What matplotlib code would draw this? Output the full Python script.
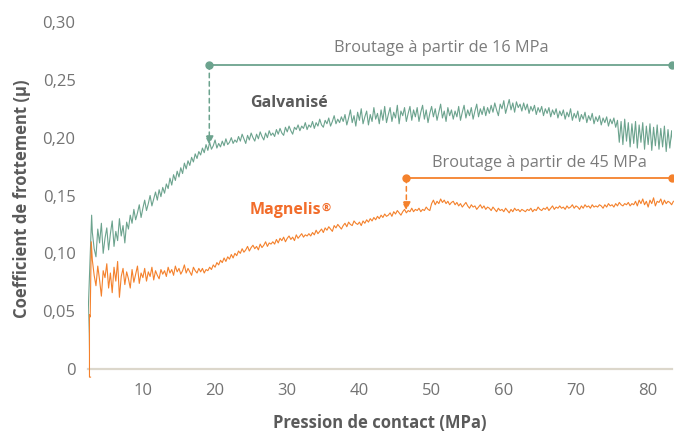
import numpy as np
import matplotlib
matplotlib.use("Agg")
import matplotlib.pyplot as plt

plt.rcParams['font.family'] = ['Open Sans', 'DejaVu Sans']

# ---------------- data ----------------
x_main = np.arange(3.0, 83.51, 0.25)

galv_start_x = [2.3, 2.35, 2.45, 2.9]
galv_start_y = [0.004, 0.030, 0.054, 0.133]
galv_y = [
    0.118, 0.104, 0.097, 0.121, 0.109, 0.126, 0.100, 0.113, 0.122, 0.103, 0.117, 0.128, 0.106, 0.119, 0.111, 0.130, 0.115, 0.124, 0.109, 0.127,
    0.121, 0.133, 0.126, 0.138, 0.129, 0.135, 0.142, 0.131, 0.139, 0.146, 0.137, 0.143, 0.150, 0.141, 0.147, 0.153, 0.146, 0.155, 0.149, 0.157,
    0.152, 0.160, 0.156, 0.165, 0.159, 0.168, 0.163, 0.171, 0.166, 0.174, 0.169, 0.178, 0.173, 0.180, 0.176, 0.183, 0.179, 0.186, 0.182, 0.188,
    0.185, 0.191, 0.187, 0.194, 0.189, 0.196, 0.190, 0.193, 0.198, 0.191, 0.195, 0.192, 0.197, 0.193, 0.199, 0.194, 0.196, 0.200, 0.195, 0.198,
    0.196, 0.201, 0.197, 0.203, 0.199, 0.195, 0.202, 0.198, 0.204, 0.200, 0.197, 0.203, 0.199, 0.205, 0.201, 0.198, 0.204, 0.200, 0.206, 0.202,
    0.204, 0.201, 0.207, 0.203, 0.208, 0.204, 0.202, 0.209, 0.205, 0.210, 0.206, 0.203, 0.209, 0.207, 0.211, 0.206, 0.210, 0.208, 0.213, 0.207,
    0.211, 0.209, 0.214, 0.208, 0.213, 0.210, 0.216, 0.211, 0.209, 0.215, 0.212, 0.217, 0.210, 0.214, 0.219, 0.212, 0.216, 0.213, 0.218, 0.214,
    0.220, 0.211, 0.217, 0.224, 0.213, 0.219, 0.210, 0.222, 0.215, 0.225, 0.212, 0.218, 0.223, 0.211, 0.220, 0.214, 0.226, 0.216, 0.221, 0.212,
    0.224, 0.215, 0.227, 0.213, 0.220, 0.226, 0.214, 0.222, 0.217, 0.228, 0.212, 0.223, 0.219, 0.226, 0.214, 0.221, 0.227, 0.215, 0.224, 0.218,
    0.226, 0.214, 0.222, 0.228, 0.216, 0.224, 0.213, 0.221, 0.227, 0.218, 0.225, 0.215, 0.222, 0.229, 0.217, 0.223, 0.214, 0.226, 0.219, 0.224,
    0.216, 0.223, 0.218, 0.227, 0.215, 0.222, 0.228, 0.217, 0.224, 0.219, 0.226, 0.216, 0.223, 0.229, 0.218, 0.225, 0.220, 0.227, 0.219, 0.226,
    0.221, 0.228, 0.222, 0.230, 0.224, 0.219, 0.229, 0.225, 0.232, 0.221, 0.227, 0.233, 0.224, 0.230, 0.222, 0.231, 0.226, 0.229, 0.223, 0.230,
    0.224, 0.229, 0.221, 0.227, 0.223, 0.228, 0.220, 0.226, 0.222, 0.227, 0.219, 0.225, 0.221, 0.226, 0.218, 0.224, 0.220, 0.225, 0.217, 0.223,
    0.219, 0.224, 0.216, 0.222, 0.218, 0.225, 0.215, 0.221, 0.217, 0.223, 0.214, 0.220, 0.216, 0.222, 0.213, 0.219, 0.215, 0.221, 0.212, 0.218,
    0.214, 0.219, 0.211, 0.217, 0.213, 0.218, 0.210, 0.216, 0.212, 0.217, 0.209, 0.215, 0.196, 0.214, 0.194, 0.216, 0.197, 0.213, 0.192, 0.212,
    0.195, 0.214, 0.191, 0.211, 0.196, 0.213, 0.190, 0.210, 0.194, 0.212, 0.189, 0.209, 0.193, 0.211, 0.190, 0.208, 0.192, 0.210, 0.188, 0.207,
    0.191, 0.206, 0.189,
]

magn_start_x = [2.75, 2.6, 2.6, 2.7, 2.85]
magn_start_y = [-0.007, -0.007, 0.047, 0.045, 0.110]
magn_y = [
    0.094, 0.081, 0.072, 0.089, 0.077, 0.063, 0.085, 0.079, 0.091, 0.070, 0.083, 0.066, 0.088, 0.076, 0.093, 0.062, 0.080, 0.087, 0.073, 0.084,
    0.078, 0.070, 0.086, 0.075, 0.082, 0.089, 0.074, 0.083, 0.079, 0.087, 0.076, 0.084, 0.080, 0.088, 0.077, 0.085, 0.081, 0.078, 0.086, 0.082,
    0.085, 0.080, 0.088, 0.083, 0.086, 0.081, 0.089, 0.084, 0.087, 0.082, 0.085, 0.090, 0.083, 0.087, 0.084, 0.081, 0.088, 0.085, 0.083, 0.087,
    0.084, 0.087, 0.083, 0.086, 0.085, 0.088, 0.086, 0.090, 0.088, 0.092, 0.090, 0.094, 0.092, 0.096, 0.093, 0.097, 0.095, 0.099, 0.096, 0.100,
    0.098, 0.102, 0.100, 0.104, 0.101, 0.103, 0.106, 0.102, 0.105, 0.107, 0.104, 0.106, 0.103, 0.108, 0.105, 0.107, 0.110, 0.106, 0.109, 0.108,
    0.110, 0.108, 0.112, 0.109, 0.113, 0.111, 0.114, 0.110, 0.113, 0.115, 0.112, 0.114, 0.111, 0.116, 0.113, 0.115, 0.117, 0.114, 0.116, 0.115,
    0.117, 0.115, 0.118, 0.116, 0.120, 0.117, 0.119, 0.121, 0.118, 0.122, 0.120, 0.123, 0.121, 0.119, 0.124, 0.122, 0.125, 0.123, 0.121, 0.124,
    0.126, 0.123, 0.127, 0.125, 0.124, 0.128, 0.126, 0.125, 0.127, 0.124, 0.128, 0.126, 0.129, 0.127, 0.130, 0.128, 0.131, 0.129, 0.132, 0.130,
    0.133, 0.131, 0.134, 0.132, 0.133, 0.135, 0.132, 0.136, 0.134, 0.137, 0.135, 0.133, 0.136, 0.138, 0.135, 0.137, 0.136, 0.139, 0.136, 0.138,
    0.137, 0.139, 0.136, 0.138, 0.137, 0.140, 0.138, 0.137, 0.143, 0.146, 0.142, 0.145, 0.143, 0.147, 0.144, 0.146, 0.143, 0.145, 0.142, 0.144,
    0.145, 0.142, 0.144, 0.141, 0.143, 0.140, 0.142, 0.144, 0.141, 0.139, 0.142, 0.140, 0.141, 0.138, 0.140, 0.142, 0.139, 0.141, 0.138, 0.140,
    0.139, 0.137, 0.140, 0.138, 0.136, 0.139, 0.137, 0.138, 0.136, 0.139, 0.137, 0.135, 0.138, 0.136, 0.139, 0.137, 0.138, 0.136, 0.138, 0.137,
    0.136, 0.138, 0.137, 0.139, 0.136, 0.138, 0.137, 0.140, 0.138, 0.137, 0.139, 0.138, 0.140, 0.137, 0.139, 0.141, 0.138, 0.140, 0.139, 0.141,
    0.139, 0.140, 0.138, 0.141, 0.139, 0.140, 0.142, 0.139, 0.141, 0.140, 0.138, 0.141, 0.139, 0.142, 0.140, 0.141, 0.139, 0.142, 0.140, 0.141,
    0.140, 0.142, 0.141, 0.139, 0.142, 0.140, 0.143, 0.141, 0.142, 0.140, 0.143, 0.141, 0.144, 0.142, 0.141, 0.143, 0.142, 0.144, 0.141, 0.143,
    0.142, 0.145, 0.141, 0.146, 0.143, 0.147, 0.142, 0.145, 0.140, 0.146, 0.143, 0.148, 0.141, 0.145, 0.144, 0.147, 0.142, 0.146, 0.143, 0.145,
    0.144, 0.142, 0.145,
]

x_ticks = [10, 20, 30, 40, 50, 60, 70, 80]
y_ticks = [0, 0.05, 0.10, 0.15, 0.20, 0.25, 0.30]
y_ticklabels = ["0", "0,05", "0,10", "0,15", "0,20", "0,25", "0,30"]

galv_onset = 19.2      # annotation start (position on chart)
galv_bar_y = 0.263
galv_arrow_to = 0.194
magn_onset = 46.5
magn_bar_y = 0.165
magn_arrow_to = 0.137

GREEN = "#6ca38e"
ORANGE = "#f4812c"
GREY = "#7b7b7b"
DARK = "#5a5a5a"

# ---------------- figure ----------------
fig = plt.figure(figsize=(6.74, 4.32), dpi=100)
ax = fig.add_axes([0.1306, 0.119, 0.997 - 0.1306, 0.9625 - 0.119])
XMIN, XMAX = 2.4, 83.3
ax.set_xlim(XMIN, XMAX)
ax.set_ylim(-0.01, 0.305)

gx = np.concatenate([galv_start_x, x_main])
gy = np.concatenate([galv_start_y, galv_y])
mx = np.concatenate([magn_start_x, x_main])
my = np.concatenate([magn_start_y, magn_y])

ax.plot(gx, gy, color=GREEN, lw=0.8, clip_on=True, zorder=3)
ax.plot(mx, my, color=ORANGE, lw=0.8, clip_on=False, zorder=3)

# spines
for s in ["left", "right", "top"]:
    ax.spines[s].set_visible(False)
ax.spines["bottom"].set_position(("data", 0))
ax.spines["bottom"].set_color("#dcd7cb")
ax.spines["bottom"].set_linewidth(1.6)
ax.spines["bottom"].set_zorder(1)

ax.set_xticks(x_ticks)
ax.set_yticks(y_ticks)
ax.set_yticklabels(y_ticklabels)
ax.tick_params(axis="both", length=0, labelsize=12, labelcolor="#737373")
ax.tick_params(axis="y", pad=9)
ax.tick_params(axis="x", pad=10)

ax.set_ylabel("Coefficient de frottement (µ)", fontsize=12, fontweight="bold",
              color=DARK, labelpad=8)
ax.set_xlabel("Pression de contact (MPa)", fontsize=12, fontweight="bold",
              color=DARK, labelpad=11)

# annotations: Galvanisé
ax.plot([galv_onset, XMAX], [galv_bar_y, galv_bar_y], color=GREEN, lw=1.3,
        clip_on=False, zorder=4)
ax.plot([galv_onset, XMAX], [galv_bar_y, galv_bar_y], 'o', color=GREEN, ms=5,
        clip_on=False, zorder=5)
ax.annotate("", xy=(galv_onset, galv_arrow_to), xytext=(galv_onset, galv_bar_y),
            arrowprops=dict(arrowstyle="-|>,head_length=0.5,head_width=0.25",
                            color=GREEN, lw=1.1, linestyle=(0, (3, 2.5)),
                            shrinkA=0, shrinkB=0), zorder=4)
ax.text(51.3, 0.2775, "Broutage à partir de 16 MPa", fontsize=11.8, color=GREY,
        ha="center", va="center")
ax.text(24.85, 0.230, "Galvanisé", fontsize=11.5, color=DARK, fontweight="bold",
        ha="left", va="center")

# annotations: Magnelis
ax.plot([magn_onset, XMAX], [magn_bar_y, magn_bar_y], color=ORANGE, lw=1.3,
        clip_on=False, zorder=4)
ax.plot([magn_onset, XMAX], [magn_bar_y, magn_bar_y], 'o', color=ORANGE, ms=5,
        clip_on=False, zorder=5)
ax.annotate("", xy=(magn_onset, magn_arrow_to), xytext=(magn_onset, magn_bar_y),
            arrowprops=dict(arrowstyle="-|>,head_length=0.5,head_width=0.25",
                            color=ORANGE, lw=1.1, linestyle=(0, (3, 2.5)),
                            shrinkA=0, shrinkB=0), zorder=4)
ax.text(64.9, 0.178, "Broutage à partir de 45 MPa", fontsize=11.8, color=GREY,
        ha="center", va="center")
t_mag = ax.text(24.85, 0.1375, "Magnelis", fontsize=11.5, color="#f26d2b",
                fontweight="bold", ha="left", va="center")
ax.annotate("®", xy=(1.0, 1.0), xycoords=t_mag, xytext=(-0.3, -0.5),
            textcoords="offset points", fontsize=8, color="#f26d2b",
            fontweight="bold", ha="left", va="top")

fig.savefig("out.png", dpi=100)
